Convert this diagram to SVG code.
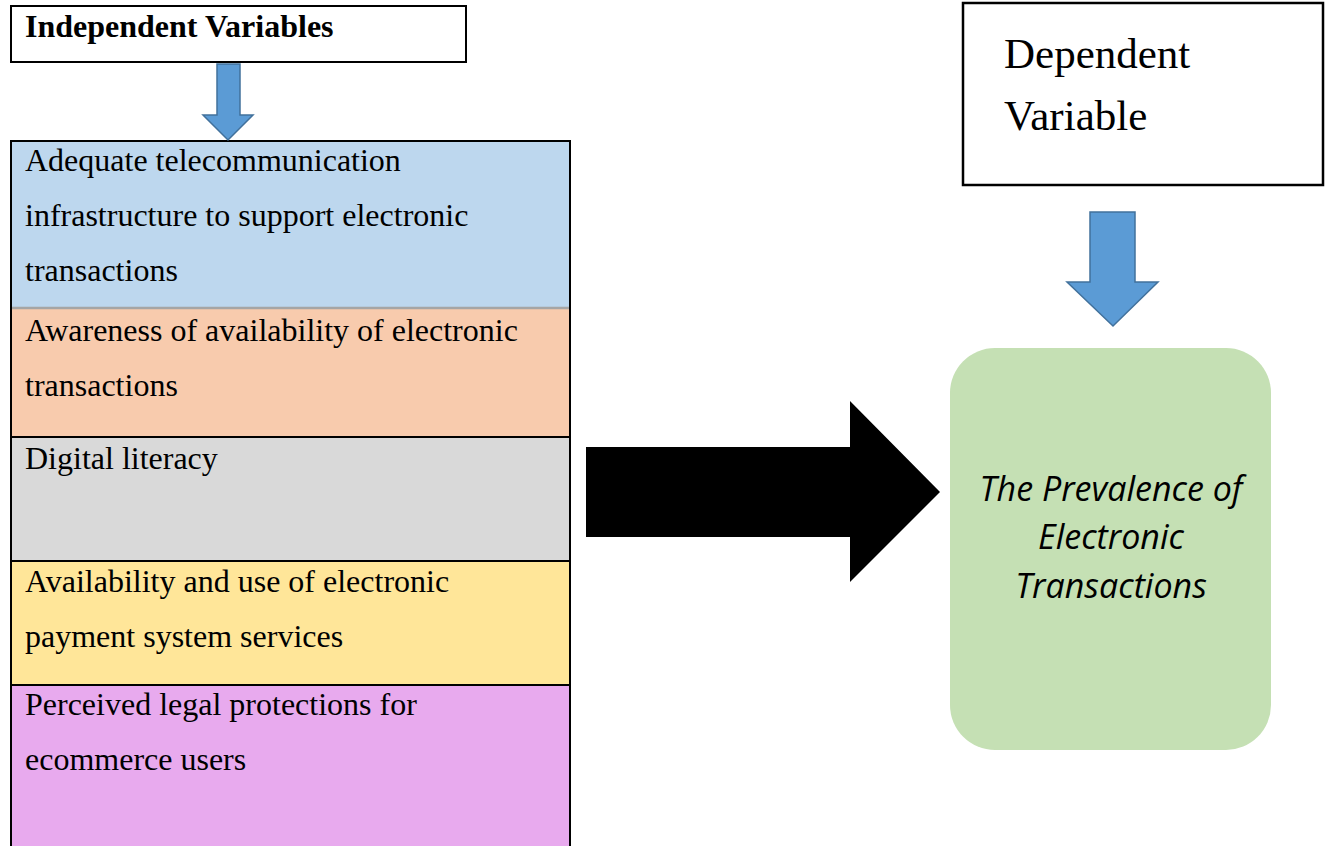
<svg xmlns="http://www.w3.org/2000/svg" width="1326" height="846" viewBox="0 0 1326 846">
<style>
.serif{font-family:"Liberation Serif","Times New Roman",serif;fill:#000}
.item{font-size:32px}
.box{stroke:#000;stroke-width:2}
.barrow{fill:#5B9BD5;stroke:#41719C;stroke-width:1.5}
.dv{font-family:"Liberation Serif",serif;font-size:43px;fill:#000}
.res{font-family:"Open Sans","Noto Sans",sans-serif;font-style:italic;font-size:34px;fill:#000;text-anchor:middle}
</style>
<rect width="1326" height="846" fill="#fff"/>
<g id="independent-title">
<rect x="11" y="6" width="455" height="56" fill="#fff" class="box"/>
<text x="25" y="37" class="serif" font-size="32" font-weight="bold">Independent Variables</text>
</g>
<g id="factors">
<g id="f1">
<rect x="11" y="141" width="559" height="167" fill="#BDD7EE" class="box"/>
<text class="serif item" x="25" y="171">Adequate telecommunication</text>
<text class="serif item" x="25" y="226">infrastructure to support electronic</text>
<text class="serif item" x="25" y="281">transactions</text>
</g>
<g id="f2">
<rect x="11" y="308" width="559" height="129" fill="#F8CBAD" class="box"/>
<line x1="12" y1="308" x2="569" y2="308" stroke="#A5A5A5" stroke-width="2.5"/>
<text class="serif item" x="25" y="341">Awareness of availability of electronic</text>
<text class="serif item" x="25" y="396">transactions</text>
</g>
<g id="f3">
<rect x="11" y="437" width="559" height="124" fill="#D9D9D9" class="box"/>
<text class="serif item" x="25" y="469">Digital literacy</text>
</g>
<g id="f4">
<rect x="11" y="561" width="559" height="124" fill="#FFE699" class="box"/>
<text class="serif item" x="25" y="592">Availability and use of electronic</text>
<text class="serif item" x="25" y="647">payment system services</text>
</g>
<g id="f5">
<rect x="11" y="685" width="559" height="170" fill="#E8AAEE" class="box"/>
<text class="serif item" x="25" y="715">Perceived legal protections for</text>
<text class="serif item" x="25" y="770">ecommerce users</text>
</g>
</g>
<g id="dependent-title">
<rect x="963" y="3" width="360" height="182" fill="#fff" stroke="#000" stroke-width="2.5"/>
<text class="dv" x="1004" y="68">Dependent</text>
<text class="dv" x="1004" y="130">Variable</text>
</g>
<g id="outcome">
<rect x="950" y="348" width="321" height="402" rx="45" ry="45" fill="#C5E0B4"/>
<text class="res" x="1111" y="501">The Prevalence of</text>
<text class="res" x="1111" y="549">Electronic</text>
<text class="res" x="1111" y="598">Transactions</text>
</g>
<g id="connectors">
<polygon class="barrow" points="217,64 240,64 240,115 253,115 228,140 203,115 217,115"/>
<polygon class="barrow" points="1090,212 1135,212 1135,282 1158,282 1113,326 1067,282 1090,282"/>
<polygon fill="#000" points="586,447 850,447 850,401 940,492 850,582 850,537 586,537"/>
</g>
</svg>
